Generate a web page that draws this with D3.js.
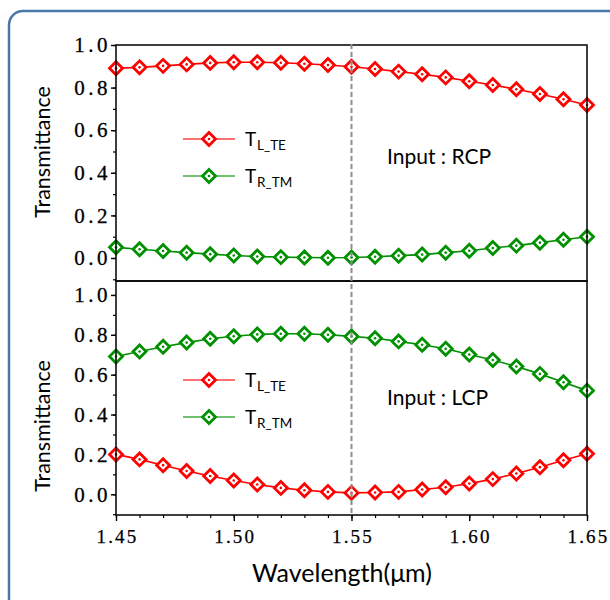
<!DOCTYPE html>
<html>
<head>
<meta charset="utf-8">
<script src="https://cdn.jsdelivr.net/npm/d3@7"></script>
<style>
  body { margin: 0; background: #fff; }
  svg { display: block; }
</style>
</head>
<body>
<div id="chart"></div>
<script>
// Wavelength sweep, one sample every 0.01 um
const wavelength = [1.45, 1.46, 1.47, 1.48, 1.49, 1.50, 1.51, 1.52, 1.53, 1.54, 1.55,
                    1.56, 1.57, 1.58, 1.59, 1.60, 1.61, 1.62, 1.63, 1.64, 1.65];

// Input : RCP
const rcpTE = [0.891, 0.895, 0.902, 0.909, 0.916, 0.919, 0.919, 0.917, 0.912, 0.906, 0.898,
               0.887, 0.875, 0.863, 0.848, 0.830, 0.812, 0.792, 0.770, 0.745, 0.718];
const rcpTM = [0.050, 0.041, 0.033, 0.025, 0.018, 0.012, 0.007, 0.004, 0.002, 0.001, 0.002,
               0.006, 0.011, 0.016, 0.025, 0.034, 0.047, 0.058, 0.072, 0.086, 0.100];

// Input : LCP
const lcpTE = [0.200, 0.175, 0.146, 0.117, 0.092, 0.069, 0.049, 0.032, 0.020, 0.012, 0.007,
               0.009, 0.012, 0.024, 0.035, 0.054, 0.076, 0.104, 0.136, 0.171, 0.203];
const lcpTM = [0.691, 0.716, 0.740, 0.761, 0.780, 0.793, 0.802, 0.805, 0.805, 0.800, 0.792,
               0.783, 0.767, 0.750, 0.730, 0.701, 0.674, 0.641, 0.604, 0.562, 0.520];

const xTicks = [1.45, 1.50, 1.55, 1.60, 1.65];
const yTicks = [0.0, 0.2, 0.4, 0.6, 0.8, 1.0];
const markLine = 1.55;

const W = 610, H = 600;
const left = 116, right = 587;
const RED = '#ff0000', GREEN = '#009000';

const svg = d3.select('#chart').append('svg')
    .attr('width', W)
    .attr('height', H);

// rounded frame running off the page
svg.append('rect')
    .attr('x', 9).attr('y', 11)
    .attr('width', 720).attr('height', 720)
    .attr('rx', 14)
    .attr('fill', 'none')
    .attr('stroke', '#4a78a6')
    .attr('stroke-width', 2.5);

const x = d3.scaleLinear().domain([1.45, 1.65]).range([left, right]);

const panels = [
    { top: 45, bottom: 281, domain: [-0.108, 1.0], te: rcpTE, tm: rcpTM,
      input: 'Input : RCP', legendY: 139, labelY: 152 },
    { top: 281, bottom: 515, domain: [-0.104, 1.07], te: lcpTE, tm: lcpTM,
      input: 'Input : LCP', legendY: 380, labelY: 426 }
];

const tickFont = 'Liberation Serif, DejaVu Serif, serif';
const textFont = 'Lato, Open Sans, sans-serif';

function diamond(g, cx, cy, color) {
    const s = 6.5;
    g.append('path')
        .attr('d', `M${cx},${cy - s}L${cx + s},${cy}L${cx},${cy + s}L${cx - s},${cy}Z`)
        .attr('fill', '#fff')
        .attr('stroke', color)
        .attr('stroke-width', 2.8);
    g.append('circle')
        .attr('cx', cx).attr('cy', cy)
        .attr('r', 1.3)
        .attr('fill', color);
}

panels.forEach((p, i) => {
    const y = d3.scaleLinear().domain(p.domain).range([p.bottom, p.top]);
    const g = svg.append('g');

    // minor ticks every 0.1
    const minor = d3.range(-1, 11).map(v => v / 10).filter(v => v >= p.domain[0] - 1e-9 && v <= p.domain[1] + 1e-9);
    g.append('g')
        .attr('transform', `translate(${left},0)`)
        .call(d3.axisLeft(y).tickValues(minor).tickSize(3).tickFormat(''))
        .call(a => a.select('.domain').remove())
        .call(a => a.selectAll('line').attr('stroke-width', 1.2));

    const yAxis = g.append('g')
        .attr('transform', `translate(${left},0)`)
        .call(d3.axisLeft(y).tickValues(yTicks).tickSize(5).tickFormat(d3.format('.1f')))
        .call(a => a.select('.domain').remove());
    yAxis.selectAll('line').attr('stroke-width', 1.4);
    yAxis.selectAll('text')
        .attr('x', -5)
        .attr('font-family', tickFont)
        .attr('font-size', 21)
        .attr('letter-spacing', 3.5)
        .attr('stroke', '#000')
        .attr('stroke-width', 0.3)
        .attr('fill', '#000');

    // series
    [[p.te, RED], [p.tm, GREEN]].forEach(([vals, color]) => {
        const pts = wavelength.map((w, k) => [x(w), y(vals[k])]);
        g.append('path')
            .attr('d', d3.line()(pts))
            .attr('fill', 'none')
            .attr('stroke', color)
            .attr('stroke-width', 1.6);
        const mg = g.append('g');
        pts.forEach(([px, py]) => diamond(mg, px, py, color));
    });

    // legend
    const lg = g.append('g');
    [[RED, 'L_TE', 0], [GREEN, 'R_TM', 37]].forEach(([color, sub, dy]) => {
        const ly = p.legendY + dy;
        lg.append('line')
            .attr('x1', 183).attr('x2', 235)
            .attr('y1', ly).attr('y2', ly)
            .attr('stroke', color)
            .attr('stroke-opacity', 0.75)
            .attr('stroke-width', 1.5);
        diamond(lg, 209, ly, color);
        lg.append('text')
            .attr('x', 245).attr('y', ly + 6.5)
            .attr('font-family', textFont)
            .attr('font-size', 19)
            .text('T');
        lg.append('text')
            .attr('x', 257).attr('y', ly + 11)
            .attr('font-family', textFont)
            .attr('font-size', 13.5)
            .text(sub);
    });

    g.append('text')
        .attr('x', 387).attr('y', p.legendY + 24.5)
        .attr('font-family', textFont)
        .attr('font-size', 21)
        .text(p.input);

    // y label
    g.append('text')
        .attr('transform', `translate(50,${p.labelY}) rotate(-90)`)
        .attr('text-anchor', 'middle')
        .attr('font-family', textFont)
        .attr('font-size', 21.5)
        .text('Transmittance');

    // frame
    g.append('rect')
        .attr('x', left).attr('y', p.top)
        .attr('width', right - left).attr('height', p.bottom - p.top)
        .attr('fill', 'none')
        .attr('stroke', '#000')
        .attr('stroke-width', 1.5);
});

// dashed line at 1.55 um
svg.append('line')
    .attr('x1', x(markLine)).attr('x2', x(markLine))
    .attr('y1', 44).attr('y2', 515)
    .attr('stroke', '#8c8c8c')
    .attr('stroke-width', 2)
    .attr('stroke-dasharray', '5,3');

// x axis
const bottom = 515;
const xMinor = d3.range(145, 166).map(v => v / 100);
svg.append('g')
    .attr('transform', `translate(0,${bottom})`)
    .call(d3.axisBottom(x).tickValues(xMinor).tickSize(3).tickFormat(''))
    .call(a => a.select('.domain').remove())
    .call(a => a.selectAll('line').attr('stroke-width', 1.2));

const xAxis = svg.append('g')
    .attr('transform', `translate(0,${bottom})`)
    .call(d3.axisBottom(x).tickValues(xTicks).tickSize(6).tickFormat(d3.format('.2f')))
    .call(a => a.select('.domain').remove());
xAxis.selectAll('line').attr('stroke-width', 1.4);
xAxis.selectAll('text')
    .attr('y', 28)
    .attr('dy', 0)
    .attr('dx', 1)
    .attr('font-family', tickFont)
    .attr('font-size', 19)
    .attr('letter-spacing', 2.2)
    .attr('stroke', '#000')
    .attr('stroke-width', 0.25)
    .attr('fill', '#000');

svg.append('text')
    .attr('x', 342).attr('y', 582)
    .attr('text-anchor', 'middle')
    .attr('font-family', textFont)
    .attr('font-size', 25)
    .text('Wavelength(μm)');
</script>
</body>
</html>
